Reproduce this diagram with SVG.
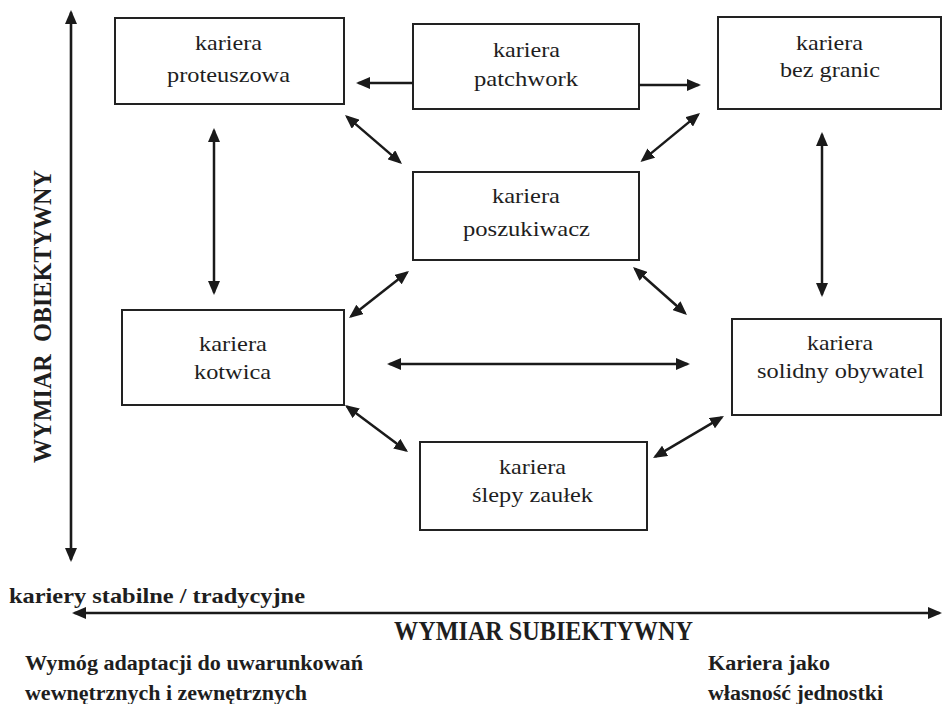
<svg xmlns="http://www.w3.org/2000/svg" width="943" height="704" viewBox="0 0 943 704">
<style>
.box{fill:#fff;stroke:#222;stroke-width:2}
.t{font-family:"Liberation Serif","Times New Roman",serif;font-size:22px;fill:#1e1e1e}
.b{font-family:"Liberation Serif","Times New Roman",serif;font-weight:bold;fill:#1e1e1e}
.c{fill:none;stroke:#1a1a1a;stroke-width:2.5}
.ax{fill:none;stroke:#1a1a1a;stroke-width:2.6}
</style>
<defs>
<marker id="ah" viewBox="0 0 14 12" refX="11.5" refY="6" markerWidth="14" markerHeight="12" markerUnits="userSpaceOnUse" orient="auto-start-reverse">
<path d="M0,0 L14,6 L0,12 z" fill="#1a1a1a"/>
</marker>
</defs>
<rect width="943" height="704" fill="#fff"/>

<g id="axes">
<line class="ax" x1="71" y1="12.5" x2="71" y2="559.5" marker-start="url(#ah)" marker-end="url(#ah)"/>
<line class="ax" x1="74.5" y1="613" x2="939.5" y2="613" marker-start="url(#ah)" marker-end="url(#ah)"/>
</g>

<g id="node-proteuszowa">
<rect class="box" x="115" y="18" width="229" height="86"/>
<text class="t" x="195" y="50" textLength="67" lengthAdjust="spacingAndGlyphs">kariera</text>
<text class="t" x="167" y="82" textLength="123" lengthAdjust="spacingAndGlyphs">proteuszowa</text>
</g>
<g id="node-patchwork">
<rect class="box" x="413" y="24" width="226" height="85"/>
<text class="t" x="493" y="57" textLength="67" lengthAdjust="spacingAndGlyphs">kariera</text>
<text class="t" x="474" y="86" textLength="104" lengthAdjust="spacingAndGlyphs">patchwork</text>
</g>
<g id="node-bez-granic">
<rect class="box" x="718" y="17" width="223" height="92"/>
<text class="t" x="796" y="50" textLength="67" lengthAdjust="spacingAndGlyphs">kariera</text>
<text class="t" x="780" y="77" textLength="100" lengthAdjust="spacingAndGlyphs">bez granic</text>
</g>
<g id="node-poszukiwacz">
<rect class="box" x="413" y="172" width="226" height="88"/>
<text class="t" x="492" y="203" textLength="68" lengthAdjust="spacingAndGlyphs">kariera</text>
<text class="t" x="463" y="236" textLength="127" lengthAdjust="spacingAndGlyphs">poszukiwacz</text>
</g>
<g id="node-kotwica">
<rect class="box" x="122" y="310" width="222" height="95"/>
<text class="t" x="199" y="351" textLength="68" lengthAdjust="spacingAndGlyphs">kariera</text>
<text class="t" x="194" y="379" textLength="77" lengthAdjust="spacingAndGlyphs">kotwica</text>
</g>
<g id="node-solidny-obywatel">
<rect class="box" x="732" y="319" width="209" height="96"/>
<text class="t" x="807" y="350" textLength="66" lengthAdjust="spacingAndGlyphs">kariera</text>
<text class="t" x="757" y="378" textLength="167" lengthAdjust="spacingAndGlyphs">solidny obywatel</text>
</g>
<g id="node-slepy-zaulek">
<rect class="box" x="420" y="442" width="227" height="88"/>
<text class="t" x="499" y="474" textLength="67" lengthAdjust="spacingAndGlyphs">kariera</text>
<text class="t" x="472" y="502" textLength="121" lengthAdjust="spacingAndGlyphs">ślepy zaułek</text>
</g>

<g id="connectors">
<line class="c" x1="413" y1="83" x2="358.5" y2="83" marker-end="url(#ah)"/>
<line class="c" x1="639" y1="85" x2="698.5" y2="85" marker-end="url(#ah)"/>
<line class="c" x1="214" y1="130.5" x2="214" y2="292.5" marker-start="url(#ah)" marker-end="url(#ah)"/>
<line class="c" x1="822" y1="134.5" x2="822" y2="294.5" marker-start="url(#ah)" marker-end="url(#ah)"/>
<line class="c" x1="346.9" y1="116.6" x2="400.1" y2="162.4" marker-start="url(#ah)" marker-end="url(#ah)"/>
<line class="c" x1="698.1" y1="114.6" x2="642.4" y2="160.4" marker-start="url(#ah)" marker-end="url(#ah)"/>
<line class="c" x1="407" y1="272.5" x2="351" y2="316.5" marker-start="url(#ah)" marker-end="url(#ah)"/>
<line class="c" x1="634.9" y1="268.7" x2="685.1" y2="313.3" marker-start="url(#ah)" marker-end="url(#ah)"/>
<line class="c" x1="389.5" y1="364" x2="687.5" y2="364" marker-start="url(#ah)" marker-end="url(#ah)"/>
<line class="c" x1="347" y1="406.5" x2="406" y2="450.5" marker-start="url(#ah)" marker-end="url(#ah)"/>
<line class="c" x1="721.8" y1="417.3" x2="655.2" y2="456.7" marker-start="url(#ah)" marker-end="url(#ah)"/>
</g>

<g id="labels">
<text class="b" font-size="26" transform="translate(51,463) rotate(-90)" x="0" y="0" textLength="293" lengthAdjust="spacingAndGlyphs" xml:space="preserve">WYMIAR  OBIEKTYWNY</text>
<text class="b" font-size="22" x="9" y="603" textLength="296" lengthAdjust="spacingAndGlyphs">kariery stabilne / tradycyjne</text>
<text class="b" font-size="27" x="394" y="640" textLength="299" lengthAdjust="spacingAndGlyphs">WYMIAR SUBIEKTYWNY</text>
<text class="b" font-size="20" x="25" y="670" textLength="338" lengthAdjust="spacingAndGlyphs">Wymóg adaptacji do uwarunkowań</text>
<text class="b" font-size="20" x="25" y="700" textLength="282" lengthAdjust="spacingAndGlyphs">wewnętrznych i zewnętrznych</text>
<text class="b" font-size="20" x="708" y="670" textLength="122" lengthAdjust="spacingAndGlyphs">Kariera jako</text>
<text class="b" font-size="20" x="708" y="700" textLength="175" lengthAdjust="spacingAndGlyphs">własność jednostki</text>
</g>
</svg>
